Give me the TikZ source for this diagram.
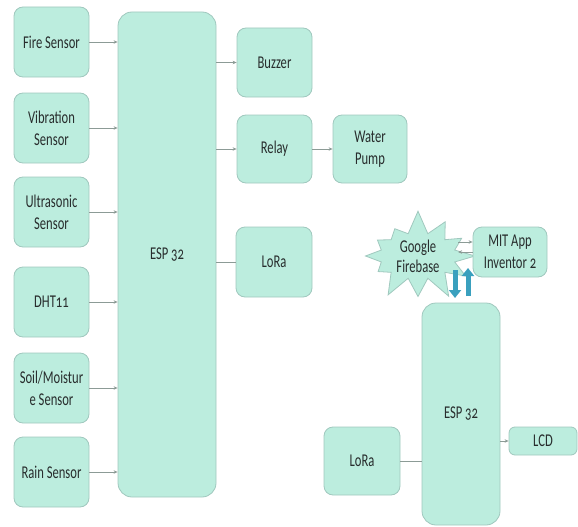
\documentclass[tikz,border=0pt]{standalone}
\usepackage{fontspec}
\setmainfont{Carlito}[FakeStretch=0.7, Numbers=OldStyle]
\usetikzlibrary{arrows.meta,shapes.symbols}
\definecolor{mint}{RGB}{188,237,222}
\definecolor{mintedge}{RGB}{160,200,190}
\definecolor{txt}{RGB}{40,45,45}
\definecolor{conncol}{RGB}{140,155,150}
\definecolor{thickcol}{RGB}{58,160,190}
\begin{document}
\begin{tikzpicture}[x=1pt,y=-1pt,
 blk/.style={draw=mintedge, line width=0.8pt, fill=mint, rounded corners=9pt, text=txt,
   font=\fontsize{18}{22}\selectfont, align=center, inner sep=0pt},
 conn/.style={draw=conncol, line width=0.8pt, -{Stealth[length=4pt,width=3.5pt]}},
 plainconn/.style={draw=conncol, line width=0.8pt},
 bigarrow/.style={draw=thickcol, line width=5pt, -{Triangle[length=8pt,width=12pt]}},
]
\useasboundingbox (0,0) rectangle (578,527);
% left column
\node[blk, minimum width=75pt, minimum height=70pt] (fire) at (51.5,42) {Fire Sensor};
\node[blk, minimum width=75pt, minimum height=70pt] (vib) at (51.5,128) {Vibration\\Sensor};
\node[blk, minimum width=75pt, minimum height=70pt] (ultra) at (51.5,212) {Ultrasonic\\Sensor};
\node[blk, minimum width=75pt, minimum height=70pt] (dht) at (51.5,302) {DHT11};
\node[blk, minimum width=75pt, minimum height=70pt] (soil) at (51.5,388) {Soil/Moistur\\e Sensor};
\node[blk, minimum width=75pt, minimum height=70pt] (rain) at (51.5,472) {Rain Sensor};
% main ESP
\node[blk, rounded corners=14pt, minimum width=98pt, minimum height=485pt] (esp) at (167,254.5) {ESP 32};
% outputs
\node[blk, minimum width=75pt, minimum height=69pt] (buzzer) at (274.5,62.5) {Buzzer};
\node[blk, minimum width=75pt, minimum height=68pt] (relay) at (274.5,149) {Relay};
\node[blk, minimum width=74pt, minimum height=68pt] (pump) at (370,149) {Water\\Pump};
\node[blk, minimum width=76pt, minimum height=70pt] (lora1) at (274,262) {LoRa};
% receiver side
\node[starburst, draw=mintedge, line width=0.8pt, fill=mint, minimum width=124pt, minimum height=90pt,
  starburst points=12, starburst point height=24pt, random starburst=7, text=txt, align=center,
  inner sep=0pt, font=\fontsize{18}{20}\selectfont] (fb) at (418,256) {Google\\Firebase};
\node[blk, minimum width=74pt, minimum height=50pt] (mit) at (510,252) {MIT App\\Inventor 2};
\node[blk, rounded corners=14pt, minimum width=78pt, minimum height=222pt] (esp2) at (461,414) {ESP 32};
\node[blk, minimum width=76pt, minimum height=68pt] (lora2) at (362,461) {LoRa};
\node[blk, minimum width=68pt, minimum height=28pt, rounded corners=6pt] (lcd) at (543,441) {LCD};
% connectors
\foreach \n in {fire,vib,ultra,dht,soil,rain}
  \draw[conn] (\n.east) -- (\n.east -| esp.west);
\draw[conn] (buzzer.west -| esp.east) -- (buzzer.west);
\draw[conn] (relay.west -| esp.east) -- (relay.west);
\draw[plainconn] (lora1.west -| esp.east) -- (lora1.west);
\draw[conn] (relay.east) -- (pump.west);
\coordinate (fbout) at (458,242);
\coordinate (fbin) at (458,252);
\draw[conn] (fbout) -- (fbout -| mit.west);
\draw[conn] (fbin -| mit.west) -- (fbin);
\coordinate (dtop) at (455,270);
\coordinate (dbot) at (455,298);
\coordinate (ubot) at (468,296);
\coordinate (utop) at (468,268);
\draw[bigarrow] (dtop) -- (dbot);
\draw[bigarrow] (ubot) -- (utop);
\draw[plainconn] (lora2.east) -- (lora2.east -| esp2.west);
\draw[conn] (lcd.west -| esp2.east) -- (lcd.west);
\end{tikzpicture}
\end{document}
